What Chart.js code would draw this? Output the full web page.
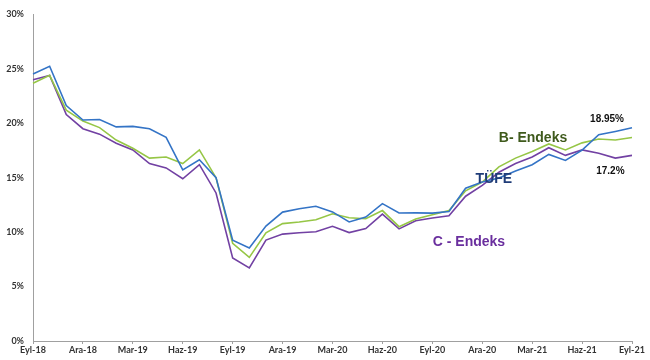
<!DOCTYPE html>
<html>
<head>
<meta charset="utf-8">
<script src="https://cdn.jsdelivr.net/npm/chart.js@4"></script>
<style>
  html, body { margin: 0; padding: 0; background: #fff; }
  #wrap { width: 650px; height: 360px; }
</style>
</head>
<body>
<div id="wrap"><canvas id="myChart"></canvas></div>
<script>
const meses = ["Eyl-18", "Eki-18", "Kas-18", "Ara-18", "Oca-19", "Şub-19", "Mar-19", "Nis-19", "May-19", "Haz-19", "Tem-19", "Ağu-19",
  "Eyl-19", "Eki-19", "Kas-19", "Ara-19", "Oca-20", "Şub-20", "Mar-20", "Nis-20", "May-20", "Haz-20", "Tem-20", "Ağu-20",
  "Eyl-20", "Eki-20", "Kas-20", "Ara-20", "Oca-21", "Şub-21", "Mar-21", "Nis-21", "May-21", "Haz-21", "Tem-21", "Ağu-21", "Eyl-21"];

const tufe = [24.52, 25.24, 21.62, 20.30, 20.35, 19.67, 19.71, 19.50, 18.71, 15.72, 16.65, 15.01,
  9.26, 8.55, 10.56, 11.84, 12.15, 12.37, 11.86, 10.94, 11.39, 12.62, 11.76, 11.77,
  11.75, 11.89, 14.03, 14.60, 14.97, 15.61, 16.19, 17.14, 16.59, 17.53, 18.95, 19.25, 19.58];

const bEndeks = [23.67, 24.4, 21.2, 20.2, 19.6, 18.46, 17.7, 16.8, 16.9, 16.3, 17.55, 15.0,
  8.97, 7.68, 9.94, 10.78, 10.93, 11.14, 11.68, 11.32, 11.23, 11.98, 10.5, 11.2,
  11.6, 11.98, 13.8, 14.6, 16.0, 16.8, 17.4, 18.1, 17.55, 18.2, 18.55, 18.46, 18.7];

const cEndeks = [24.0, 24.4, 20.8, 19.5, 19.0, 18.16, 17.55, 16.3, 15.9, 14.9, 16.2, 13.6,
  7.62, 6.71, 9.27, 9.82, 9.94, 10.03, 10.54, 9.96, 10.33, 11.65, 10.3, 11.05,
  11.3, 11.5, 13.3, 14.3, 15.5, 16.3, 16.9, 17.75, 17.05, 17.55, 17.25, 16.8, 17.05];

// etiquetas dentro del grafico (x = indice de mes, y = %)
const notas = [
  { texto: "B- Endeks", x: 30.05, y: 18.6, color: "#3f5a1c", size: 14 },
  { texto: "TÜFE", x: 27.7, y: 14.85, color: "#1f3c78", size: 14 },
  { texto: "C - Endeks", x: 26.2, y: 9.1, color: "#6a2f9e", size: 14 },
  { texto: "18.95%", x: 34.5, y: 20.4, color: "#111", size: 10 },
  { texto: "17.2%", x: 34.7, y: 15.6, color: "#111", size: 10 }
];

const tickFont = { family: "Lato", size: 9, weight: "bold" };

const notasPlugin = {
  id: "notas",
  afterDatasetsDraw(chart) {
    const ctx = chart.ctx;
    const xs = chart.scales.x;
    const ys = chart.scales.y;
    ctx.save();
    ctx.textAlign = "center";
    ctx.textBaseline = "middle";
    notas.forEach((n) => {
      ctx.font = "bold " + n.size + "px 'Liberation Sans', Arial, sans-serif";
      ctx.fillStyle = n.color;
      ctx.fillText(n.texto, xs.getPixelForValue(n.x), ys.getPixelForValue(n.y));
    });
    ctx.restore();
  }
};

function serie(label, data, color) {
  return {
    label,
    data,
    borderColor: color,
    backgroundColor: color,
    borderWidth: 1.6,
    pointRadius: 0,
    tension: 0,
    fill: false
  };
}

function dibujarGrafica() {
  const ctx = document.getElementById("myChart").getContext("2d");
  new Chart(ctx, {
    type: "line",
    data: {
      labels: meses,
      datasets: [
        serie("TÜFE", tufe, "#3474c6"),
        serie("B- Endeks", bEndeks, "#96c646"),
        serie("C - Endeks", cEndeks, "#7241a3")
      ]
    },
    options: {
      responsive: true,
      maintainAspectRatio: false,
      animation: false,
      layout: { padding: { top: 9, right: 18, left: 0, bottom: 0 } },
      plugins: {
        legend: { display: false },
        tooltip: { enabled: false }
      },
      scales: {
        x: {
          offset: false,
          afterBuildTicks: (axis) => {
            axis.ticks = axis.ticks.filter((t) => t.value % 3 === 0);
          },
          afterFit: (axis) => { axis.height = 19; },
          grid: { drawOnChartArea: false, drawTicks: true, tickLength: 3, color: "#a0a0a0" },
          border: { display: true, color: "#a0a0a0", width: 1 },
          ticks: { autoSkip: false, maxRotation: 0, padding: 1, color: "#333", font: tickFont }
        },
        y: {
          min: 0,
          max: 30,
          afterFit: (axis) => { axis.width = 33; },
          grid: { display: false, drawTicks: false },
          border: { display: true, color: "#a0a0a0", width: 1 },
          ticks: {
            stepSize: 5,
            padding: 9,
            color: "#333",
            font: tickFont,
            callback: (v) => v + "%"
          }
        }
      }
    },
    plugins: [notasPlugin]
  });
}

dibujarGrafica();
</script>
</body>
</html>
